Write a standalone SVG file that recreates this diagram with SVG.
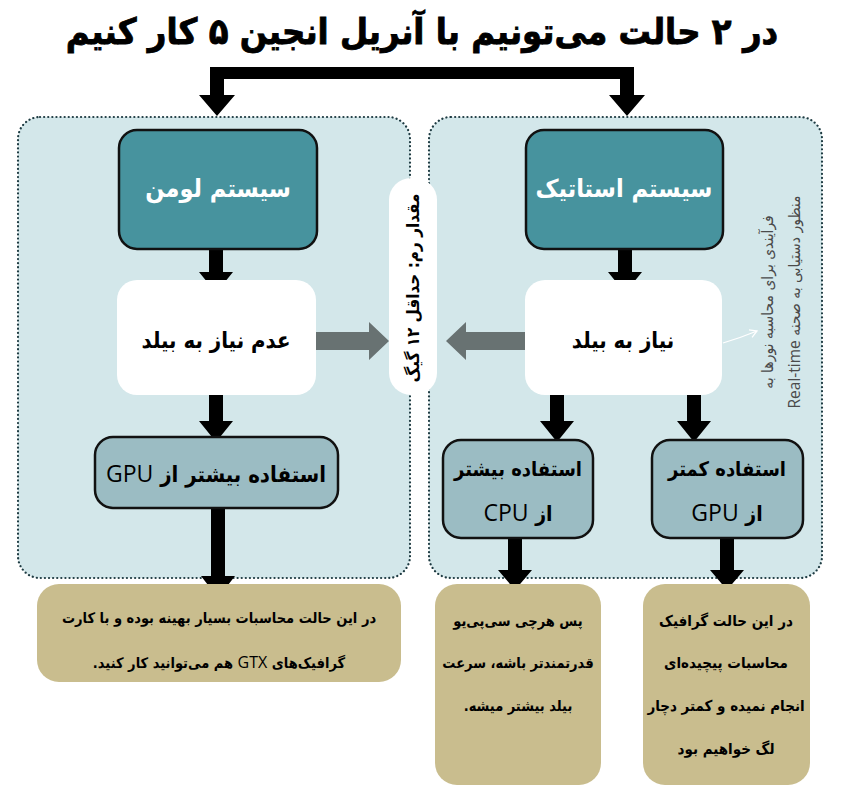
<svg xmlns="http://www.w3.org/2000/svg" width="844" height="800" viewBox="0 0 844 800">
<defs>
<style>
.panel{fill:#D3E7EA;stroke:#1E3B42;stroke-width:2.2;stroke-dasharray:0.1 4;stroke-linecap:round}
.sys{fill:#47939E;stroke:#111;stroke-width:2.5}
.white{fill:#fff}
.use{fill:#9BBCC3;stroke:#111;stroke-width:2.5}
.tan{fill:#C9BD8E}
.fa{font-family:"DejaVu Sans Condensed","DejaVu Sans","Noto Sans",sans-serif;font-stretch:condensed;font-weight:bold;direction:rtl}
.sysT{fill:#fff;font-size:25px}
.blk{fill:#000}
.lat{font-family:"Open Sans","Liberation Sans",sans-serif;font-weight:normal;font-stretch:normal}
.side{font-family:"DejaVu Sans Condensed","DejaVu Sans","Noto Sans",sans-serif;font-stretch:condensed;fill:#4a4a4a;font-size:15.5px;direction:rtl}
.bar{fill:#000}
.grey{fill:#687272}
</style>
<marker id="wh" markerWidth="10" markerHeight="10" refX="8" refY="5" orient="auto" markerUnits="userSpaceOnUse">
<path d="M1,1 L8,5 L1,9" fill="none" stroke="#fff" stroke-width="1.3"/>
</marker>
</defs>
<rect width="844" height="800" fill="#fff"/>

<g id="title">
<text class="fa" x="422" y="44" text-anchor="middle" font-size="36" fill="#000" stroke="#000" stroke-width="0.8">در ۲ حالت می‌تونیم با آنریل انجین ۵ کار کنیم</text>
</g>

<g id="panel-left"><rect class="panel" x="18" y="117" width="392" height="461" rx="22"/></g>
<g id="panel-right"><rect class="panel" x="429" y="117" width="393" height="461" rx="22"/></g>

<g id="connectors">
<path class="bar" d="M210,67 H634 V95 H645 L627,116 L609,95 H620 V79 H224 V95 H235 L217,116 L199,95 H210 Z"/>
<path class="bar" d="M209,240 H223 V272 H233 L216,293 L199,272 H209 Z"/>
<path class="bar" d="M618,240 H632 V272 H642 L625,293 L608,272 H618 Z"/>
<path class="bar" d="M209,393 H223 V421 H233 L216,442 L199,421 H209 Z"/>
<path class="bar" d="M550,393 H564 V421 H574 L557,442 L540,421 H550 Z"/>
<path class="bar" d="M687,393 H701 V421 H711 L694,442 L677,421 H687 Z"/>
<path class="bar" d="M211,505 H225 V576 H235 L218,598 L201,576 H211 Z"/>
<path class="bar" d="M508,535 H522 V570 H532 L515,590 L498,570 H508 Z"/>
<path class="bar" d="M720,535 H734 V570 H744 L727,590 L710,570 H720 Z"/>
<path class="grey" d="M310,332 H369 V322 L389,341 L369,360 V350 H310 Z"/>
<path class="grey" d="M527,332 H466 V322 L446,341 L466,360 V350 H527 Z"/>
<path d="M723,343 Q740,338 757,331" fill="none" stroke="#fff" stroke-width="1.3" marker-end="url(#wh)"/>
</g>

<g id="sys-lumen">
<rect class="sys" x="119" y="130" width="198" height="119" rx="18"/>
<text class="fa sysT" x="218" y="197" text-anchor="middle">سیستم لومن</text>
</g>
<g id="sys-static">
<rect class="sys" x="526" y="130" width="197" height="119" rx="18"/>
<text class="fa sysT" x="624" y="197" text-anchor="middle">سیستم استاتیک</text>
</g>

<g id="no-build">
<rect class="white" x="117" y="280" width="199" height="115" rx="20"/>
<text class="fa blk" x="216" y="348" text-anchor="middle" font-size="22">عدم نیاز به بیلد</text>
</g>
<g id="need-build">
<rect class="white" x="525" y="280" width="197" height="115" rx="20"/>
<text class="fa blk" x="623" y="348" text-anchor="middle" font-size="22">نیاز به بیلد</text>
</g>

<g id="ram">
<rect class="white" x="389" y="178" width="48" height="217" rx="22"/>
<text class="fa blk" transform="translate(413,288) rotate(-90)" x="0" y="6" text-anchor="middle" font-size="17">مقدار رم: حداقل ۱۲ گیگ</text>
</g>

<g id="side-note">
<text class="side" transform="translate(773,302) rotate(-90)" text-anchor="middle" x="0" y="0">فرآیندی برای محاسبه نورها به</text>
<text class="side" transform="translate(800,302) rotate(-90)" text-anchor="middle" x="0" y="0">منظور دستیابی به صحنه <tspan font-family="Open Sans, Liberation Sans, sans-serif" font-stretch="normal">Real-time</tspan></text>
</g>

<g id="gpu-more">
<rect class="use" x="95" y="437" width="243" height="71" rx="18"/>
<text class="fa blk" x="216" y="482" text-anchor="middle" font-size="22">استفاده بیشتر از <tspan class="lat" font-size="23">GPU</tspan></text>
</g>
<g id="cpu-more">
<rect class="use" x="443" y="440" width="150" height="98" rx="18"/>
<text class="fa blk" x="518" y="476" text-anchor="middle" font-size="20">استفاده بیشتر</text>
<text class="fa blk" x="518" y="521" text-anchor="middle" font-size="21">از <tspan class="lat" font-size="23">CPU</tspan></text>
</g>
<g id="gpu-less">
<rect class="use" x="652" y="440" width="151" height="98" rx="18"/>
<text class="fa blk" x="727" y="476" text-anchor="middle" font-size="20">استفاده کمتر</text>
<text class="fa blk" x="727" y="521" text-anchor="middle" font-size="21">از <tspan class="lat" font-size="23">GPU</tspan></text>
</g>

<g id="note-left">
<rect class="tan" x="37" y="584" width="364" height="98" rx="22"/>
<text class="fa blk" x="219" y="623" text-anchor="middle" font-size="14.5">در این حالت محاسبات بسیار بهینه بوده و با کارت</text>
<text class="fa blk" x="219" y="668" text-anchor="middle" font-size="14.5">گرافیک‌های <tspan class="lat" font-size="16">GTX</tspan> هم می‌توانید کار کنید.</text>
</g>
<g id="note-mid">
<rect class="tan" x="435" y="584" width="166" height="201" rx="22"/>
<text class="fa blk" x="518" y="626" text-anchor="middle" font-size="14.5">پس هرچی سی‌پی‌یو</text>
<text class="fa blk" x="518" y="668" text-anchor="middle" font-size="14.5">قدرتمندتر باشه، سرعت</text>
<text class="fa blk" x="518" y="711" text-anchor="middle" font-size="14.5">بیلد بیشتر میشه.</text>
</g>
<g id="note-right">
<rect class="tan" x="643" y="584" width="167" height="201" rx="22"/>
<text class="fa blk" x="726" y="626" text-anchor="middle" font-size="15">در این حالت گرافیک</text>
<text class="fa blk" x="726" y="668" text-anchor="middle" font-size="15">محاسبات پیچیده‌ای</text>
<text class="fa blk" x="726" y="711" text-anchor="middle" font-size="15">انجام نمیده و کمتر دچار</text>
<text class="fa blk" x="726" y="754" text-anchor="middle" font-size="15">لگ خواهیم بود</text>
</g>
</svg>
